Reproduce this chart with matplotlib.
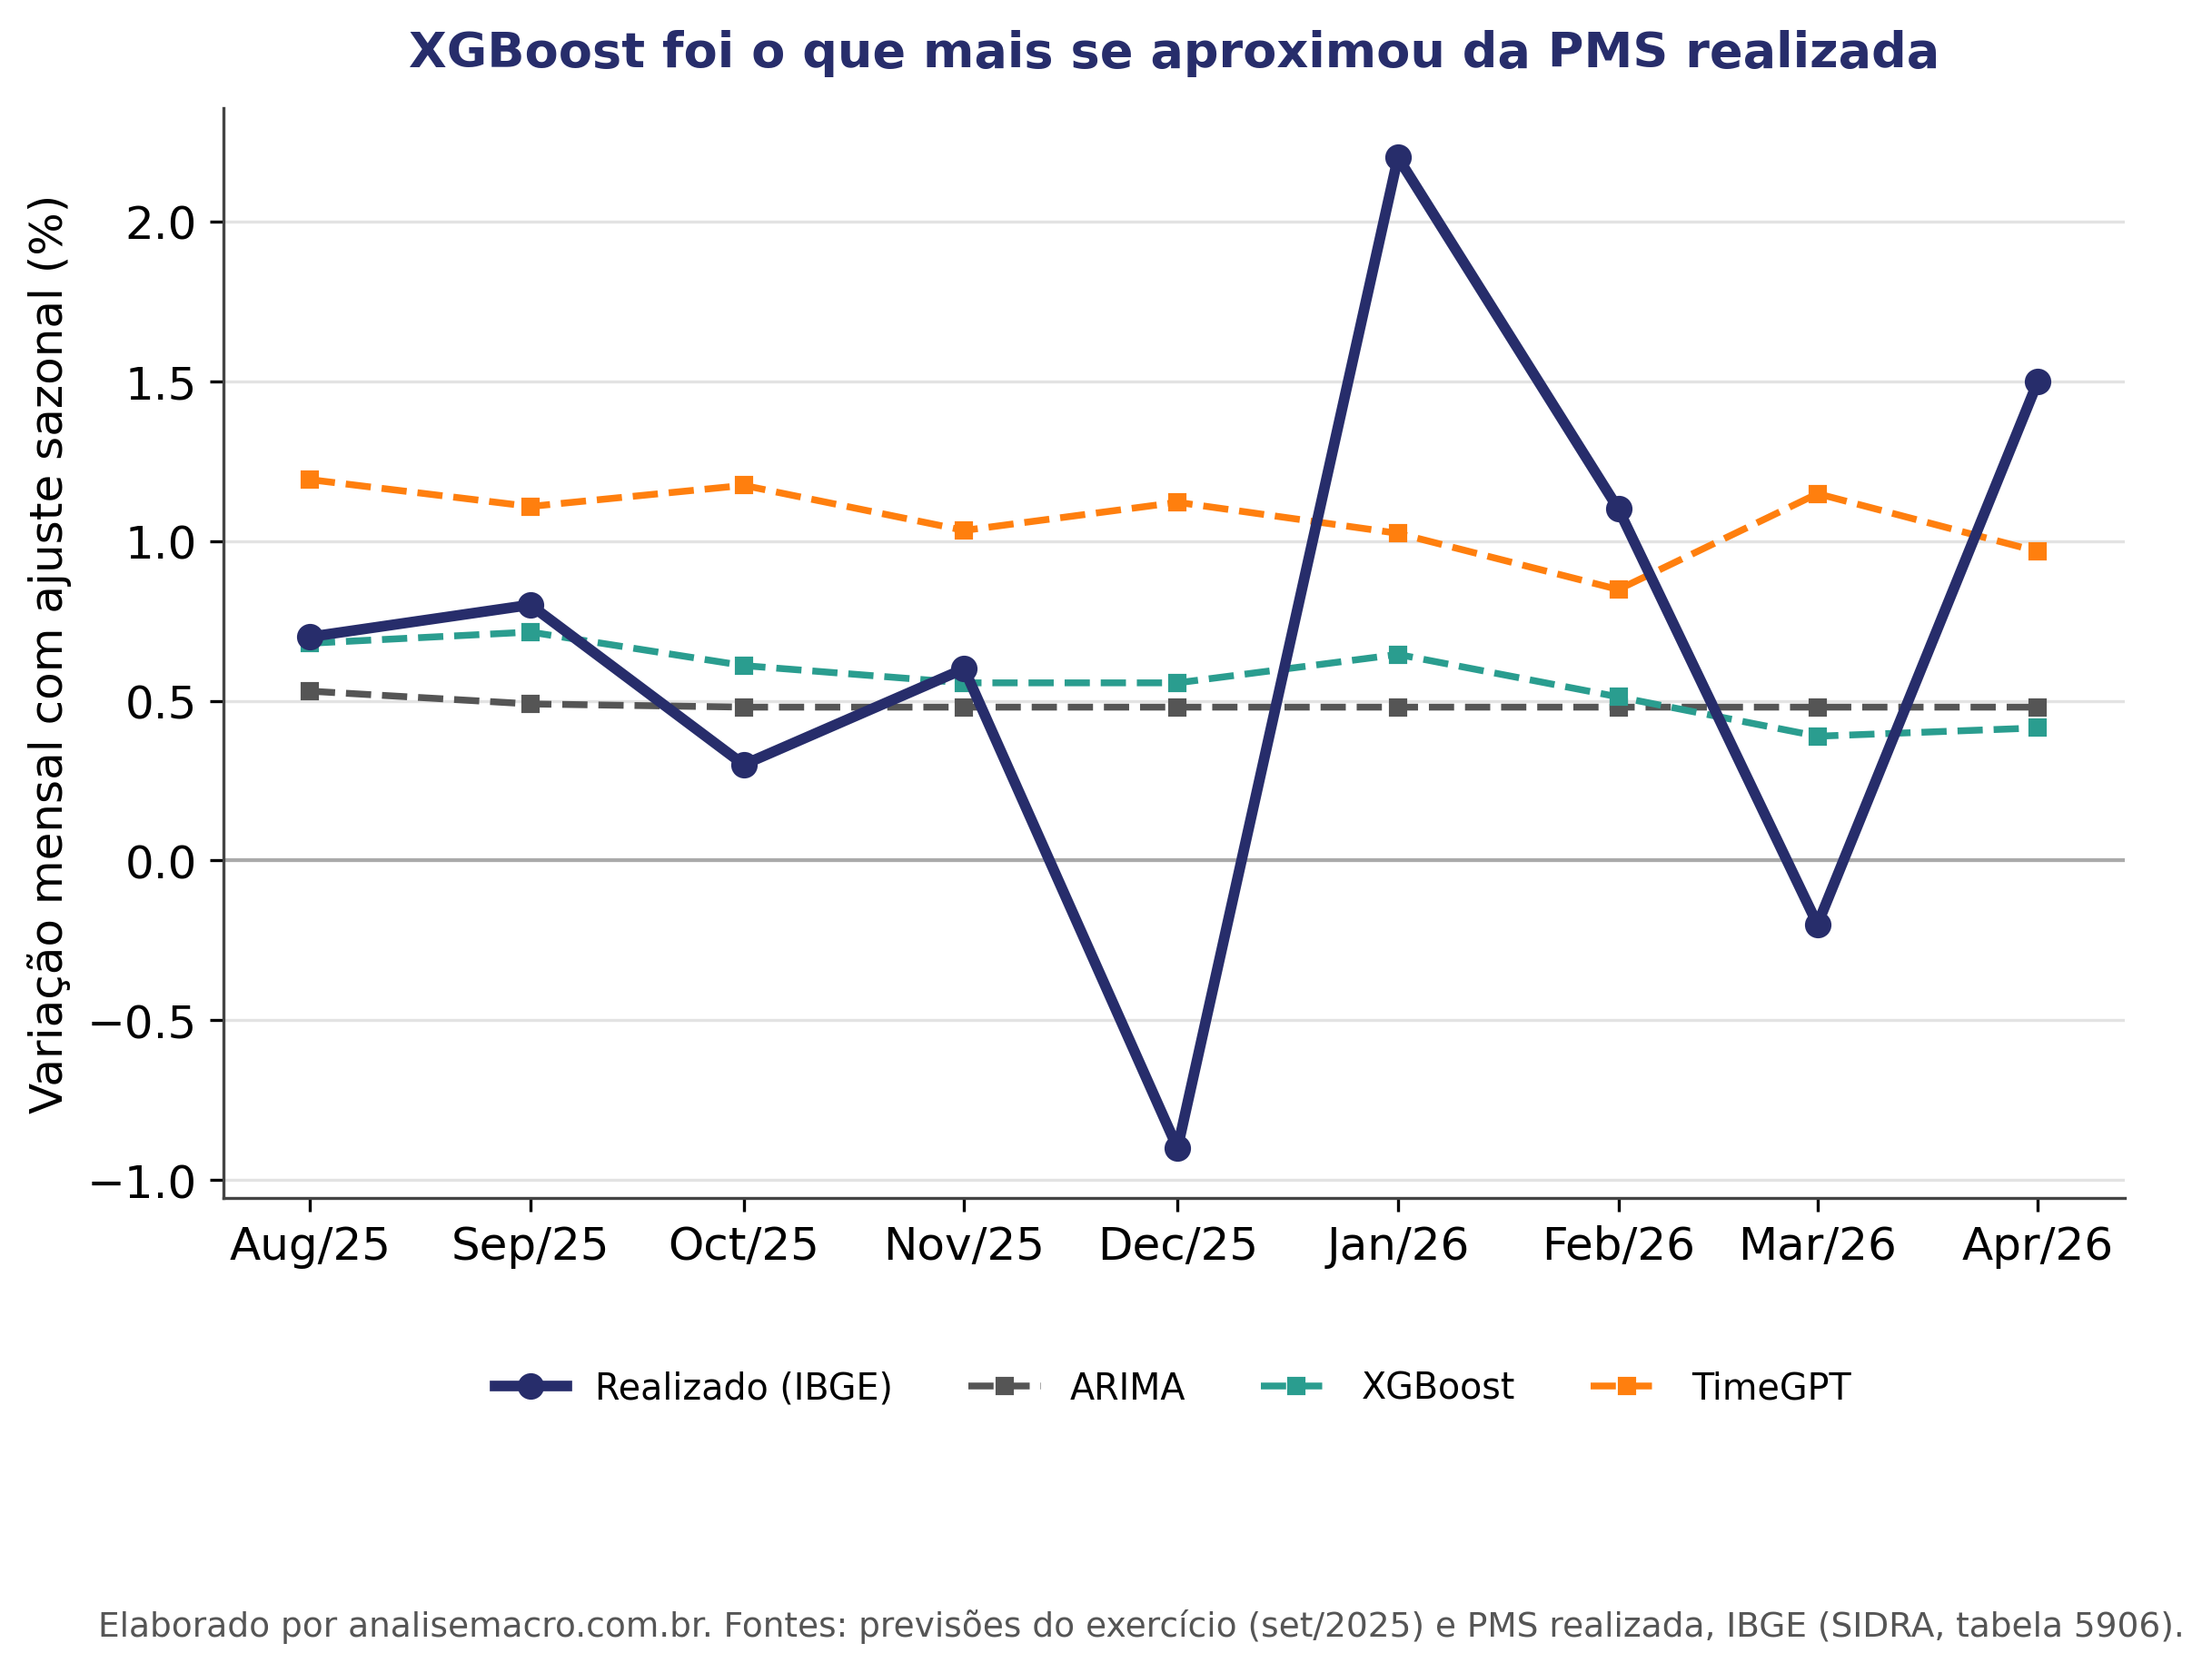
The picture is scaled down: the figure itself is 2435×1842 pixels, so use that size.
import pandas as pd
import matplotlib
matplotlib.use("Agg")
import matplotlib.pyplot as plt
import matplotlib.dates as mdates

meses = pd.to_datetime(["2025-08-01", "2025-09-01", "2025-10-01", "2025-11-01", "2025-12-01",
                        "2026-01-01", "2026-02-01", "2026-03-01", "2026-04-01"])
realizado = [0.7, 0.8, 0.3, 0.6, -0.9, 2.2, 1.1, -0.2, 1.5]
arima = [0.53, 0.49, 0.48, 0.48, 0.48, 0.48, 0.48, 0.48, 0.48]
xgboost = [0.68, 0.715, 0.61, 0.556, 0.556, 0.645, 0.512, 0.389, 0.415]
timegpt = [1.192, 1.108, 1.174, 1.033, 1.121, 1.024, 0.848, 1.148, 0.967]

navy = "#272d6b"

fig = plt.figure(figsize=(8.12, 6.143), dpi=300)
ax = fig.add_axes([0.101, 0.284, 0.859, 0.651])

ax.axhline(0, color="#aaaaaa", lw=1, zorder=1)
ax.plot(meses, realizado, color=navy, lw=2.8, marker="o", ms=6, label="Realizado (IBGE)", zorder=5)
ax.plot(meses, arima, color="#555555", lw=1.8, ls="--", marker="s", ms=4, label="ARIMA", zorder=3)
ax.plot(meses, xgboost, color="#2a9d8f", lw=1.8, ls="--", marker="s", ms=4, label="XGBoost", zorder=3)
ax.plot(meses, timegpt, color="#ff7f0e", lw=1.8, ls="--", marker="s", ms=4, label="TimeGPT", zorder=3)

ax.set_xticks(meses)
ax.xaxis.set_major_formatter(mdates.DateFormatter("%b/%y"))
ax.set_yticks([-1.0, -0.5, 0.0, 0.5, 1.0, 1.5, 2.0])
ax.grid(axis="y", color="#e3e3e3", lw=0.8)
ax.set_axisbelow(True)
ax.tick_params(labelsize=12)
ax.spines["top"].set_visible(False)
ax.spines["right"].set_visible(False)
ax.spines["left"].set_color("#444444")
ax.spines["bottom"].set_color("#444444")
ax.set_ylabel("Variação mensal com ajuste sazonal (%)", fontsize=12)

ax.set_title("XGBoost foi o que mais se aproximou da PMS realizada", fontsize=13,
             fontweight="bold", color=navy, pad=11)

fig.legend(loc="center", bbox_to_anchor=(0.53, 0.17), ncol=4, frameon=False, fontsize=9.5,
           columnspacing=2.1)

fig.text(0.987, 0.028, "Elaborado por analisemacro.com.br. Fontes: previsões do exercício (set/2025) e PMS realizada, IBGE (SIDRA, tabela 5906).",
         ha="right", va="center", fontsize=9, color="#555555")

fig.savefig("out.png", dpi=300)
